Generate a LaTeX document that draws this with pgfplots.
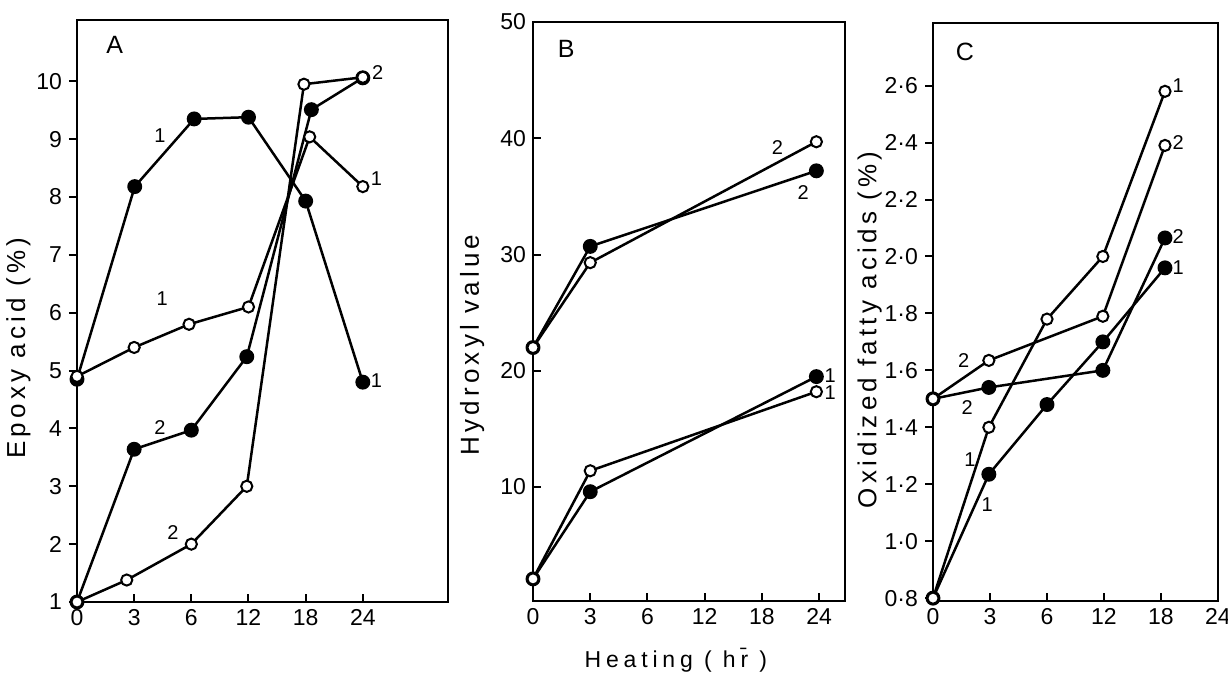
\documentclass[border=0pt]{standalone}
\usepackage{pgfplots}
\pgfplotsset{compat=1.18}
\usepackage{fontspec}
\setmainfont{Liberation Sans}
\newfontfamily\spaced[LetterSpace=16]{Liberation Sans}
\newfontfamily\spacedx[LetterSpace=21]{Liberation Sans}
\tikzset{
  lab/.style={font=\fontsize{10}{12}\selectfont, inner sep=0pt},
  big/.style={font=\fontsize{12.5}{14}\selectfont, inner sep=0pt},
  openm/.style={line width=1.25pt, black, mark=*, mark size=2.8pt, mark options={fill=white, line width=1pt}},
  fillm/.style={line width=1.25pt, black, mark=*, mark size=3.1pt, mark options={fill=black}},
}
\pgfplotsset{
  mystyle/.style={
    scale only axis, clip=false,
    axis line style={line width=1pt},
    tick style={line width=1pt,black},
    major tick length=4pt, tick align=inside, tick pos=left,
    every tick label/.append style={font=\fontsize{11.5}{13}\selectfont},
    /pgf/number format/assume math mode=true,
    xtick={0,...,5}, xticklabels={0,3,6,12,18,24},
    xmin=0,
  },
  yout/.style={every y tick/.append style={xshift=-4pt}, yticklabel style={xshift=-4pt}},
  ylab/.style={every axis y label/.style={at={(rel axis cs:#1)}, rotate=90, anchor=center, font=\fontsize{13}{15}\selectfont}},
}
\begin{document}
\begin{tikzpicture}
\useasboundingbox (0,0) rectangle (614pt,337.5pt);
% ---------------- A
\begin{axis}[mystyle, yout, at={(38.5pt,36.5pt)}, anchor=south west,
  width=185.5pt, height=291pt, xmax=6.49, ymin=1, ymax=11.06,
  ytick={1,...,10},
  ylabel={\spaced Epoxy acid (\%)}, ylab={-0.158,0.436}]
\addplot[fillm] coordinates {(0,4.85) (1.01,8.18) (2.05,9.35) (3,9.38) (4,7.93) (5,4.8)};
\addplot[fillm] coordinates {(0,1) (1,3.64) (2,3.97) (2.97,5.24) (4.1,9.51) (5,10.06)};
\addplot[openm] coordinates {(0,4.9) (1,5.4) (1.96,5.8) (3,6.1) (4.07,9.04) (5,8.18)};
\addplot[openm] coordinates {(0,1) (0.87,1.38) (2,2.0) (2.97,3.0) (3.97,9.95) (5,10.07)};
\node[big] at (axis cs:0.66,10.63) {A};
\node[lab] at (axis cs:1.45,9.06) {1};
\node[lab] at (axis cs:1.49,6.24) {1};
\node[lab] at (axis cs:1.45,4.02) {2};
\node[lab] at (axis cs:1.68,2.2) {2};
\node[lab] at (axis cs:5.26,10.16) {2};
\node[lab] at (axis cs:5.24,8.31) {1};
\node[lab] at (axis cs:5.24,4.83) {1};
\end{axis}
% ---------------- B
\begin{axis}[mystyle, at={(266.5pt,37pt)}, anchor=south west,
  width=156pt, height=289.5pt, xmax=5.45, ymin=0.2, ymax=50,
  ytick={10,20,30,40,50},
  ylabel={\spaced Hydroxyl value}, ylab={-0.195,0.442},
  xlabel={\spacedx Heating ( h\=r )},
  every axis x label/.style={at={(rel axis cs:0.458,-0.102)}, anchor=center, font=\fontsize{11.5}{13}\selectfont}]
\addplot[fillm] coordinates {(0,22) (1,30.7) (4.95,37.2)};
\addplot[openm] coordinates {(0,22) (1,29.3) (4.95,39.7)};
\addplot[fillm] coordinates {(0,2.1) (1,9.6) (4.95,19.5)};
\addplot[openm] coordinates {(0,2.1) (1,11.4) (4.95,18.2)};
\node[big] at (axis cs:0.58,47.7) {B};
\node[lab] at (axis cs:4.27,39.2) {2};
\node[lab] at (axis cs:4.72,35.3) {2};
\node[lab] at (axis cs:5.19,19.6) {1};
\node[lab] at (axis cs:5.19,18.1) {1};
\end{axis}
% ---------------- C
\begin{axis}[mystyle, yout, at={(466.5pt,37pt)}, anchor=south west,
  width=142.5pt, height=289pt, xmax=5, ymin=0.79, ymax=2.82,
  ytick={0.8,1,1.2,1.4,1.6,1.8,2,2.2,2.4,2.6},
  yticklabels={0·8,1·0,1·2,1·4,1·6,1·8,2·0,2·2,2·4,2·6},
  ylabel={\spaced Oxidized fatty acids (\%)}, ylab={-0.222,0.469}]
\addplot[fillm] coordinates {(0,1.5) (0.98,1.54) (2.98,1.6) (4.07,2.065)};
\addplot[fillm] coordinates {(0,0.8) (0.98,1.235) (2,1.48) (2.98,1.70) (4.07,1.96)};
\addplot[openm] coordinates {(0,0.8) (0.98,1.4) (2,1.78) (2.98,2.0) (4.07,2.58)};
\addplot[openm] coordinates {(0,1.5) (0.98,1.635) (2.98,1.79) (4.07,2.39)};
\node[big] at (axis cs:0.56,2.72) {C};
\node[lab] at (axis cs:4.3,2.6) {1};
\node[lab] at (axis cs:4.3,2.4) {2};
\node[lab] at (axis cs:4.3,2.07) {2};
\node[lab] at (axis cs:4.3,1.96) {1};
\node[lab] at (axis cs:0.54,1.635) {2};
\node[lab] at (axis cs:0.6,1.47) {2};
\node[lab] at (axis cs:0.65,1.285) {1};
\node[lab] at (axis cs:0.95,1.13) {1};
\end{axis}
\end{tikzpicture}
\end{document}
